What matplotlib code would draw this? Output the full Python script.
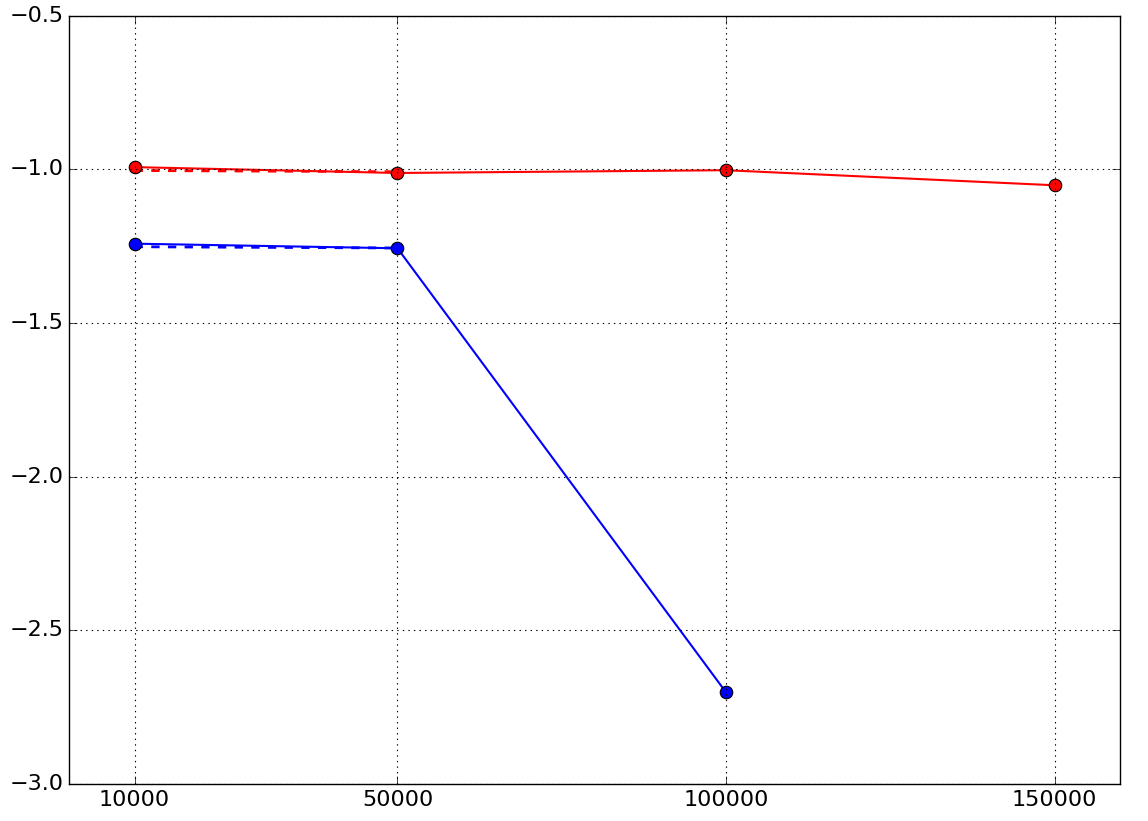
import matplotlib
matplotlib.use("Agg")
import matplotlib.pyplot as plt

plt.style.use("classic")

x_red = [10000, 50000, 100000, 150000]
red_solid = [-0.993, -1.012, -1.003, -1.052]
x_red_dash = [10000, 50000]
red_dash = [-1.004, -1.008]

x_blue = [10000, 50000, 100000]
blue_solid = [-1.242, -1.257, -2.702]
x_blue_dash = [10000, 50000]
blue_dash = [-1.252, -1.256]

xticks = [10000, 50000, 100000, 150000]

fig = plt.figure(figsize=(11.48, 8.21), dpi=100)
ax = fig.add_axes([0.060, 0.045, 0.916, 0.936])

ax.plot(x_red_dash, red_dash, "r--", lw=2)
ax.plot(x_blue_dash, blue_dash, "b--", lw=2)
ax.plot(x_red, red_solid, "r-o", lw=1.5, ms=9, mec="black", mew=0.8)
ax.plot(x_blue, blue_solid, "b-o", lw=1.5, ms=9, mec="black", mew=0.8)

ax.set_xlim(0, 160000)
ax.set_ylim(-3.0, -0.5)
ax.set_xticks(xticks)
ax.set_xticklabels([str(v) for v in xticks])
ax.set_yticks([-3.0, -2.5, -2.0, -1.5, -1.0, -0.5])
ax.tick_params(labelsize=16, direction="in", length=6)
ax.grid(True, color="black", linestyle=":", linewidth=0.8)

fig.savefig("out.png", dpi=100)
